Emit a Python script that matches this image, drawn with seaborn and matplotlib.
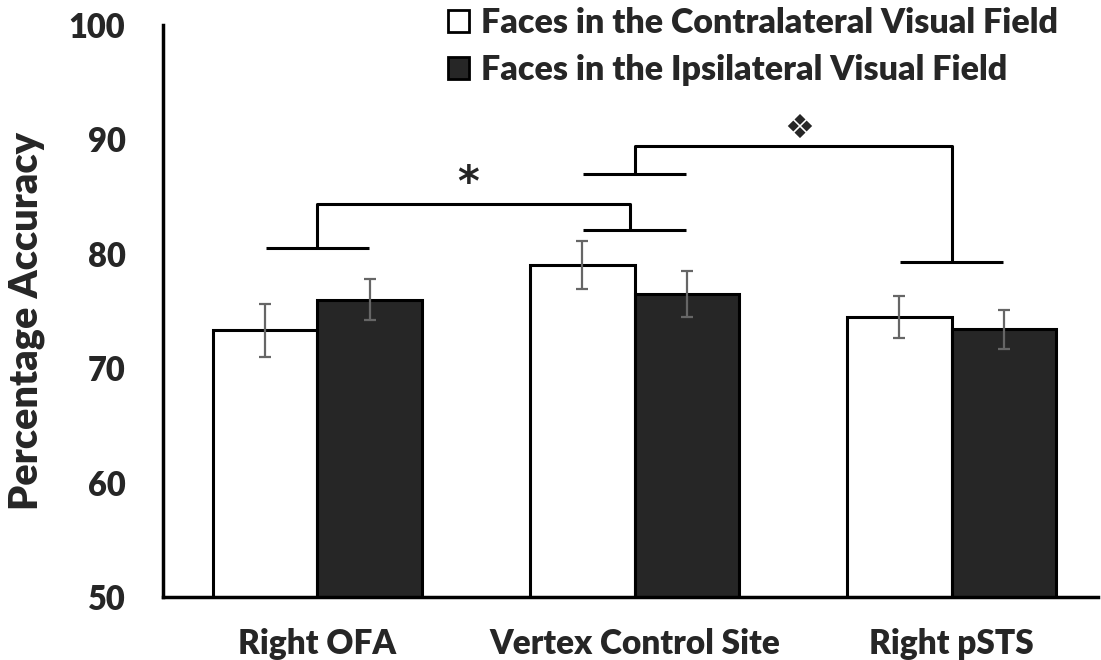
import matplotlib
matplotlib.use("Agg")
import matplotlib.pyplot as plt
import seaborn as sns
import pandas as pd
import numpy as np
from matplotlib.patches import Patch

# ---- data ----
regions = ["Right OFA", "Vertex Control Site", "Right pSTS"]
conditions = ["Faces in the Contralateral Visual Field",
              "Faces in the Ipsilateral Visual Field"]
contra_acc = [73.3, 79.0, 74.5]
ipsi_acc = [76.0, 76.5, 73.4]
contra_err = [2.3, 2.1, 1.85]
ipsi_err = [1.8, 2.0, 1.7]
colors = ["#ffffff", "#262626"]
yticks = [50, 60, 70, 80, 90, 100]

# significance brackets
sig_low_left = [80.5, 82.1]
sig_top_left = 84.4
sig_low_right = [87.0, 79.3]
sig_top_right = 89.4
sig_star = "*"
sig_diamond = "\u2756"

df = pd.DataFrame({
    "Region": regions * 2,
    "Condition": [conditions[0]] * 3 + [conditions[1]] * 3,
    "Accuracy": contra_acc + ipsi_acc,
})

sns.set_theme(style="white")
plt.rcParams["font.family"] = ["Lato", "DejaVu Sans"]
W = "heavy"
plt.rcParams["font.weight"] = W

fig = plt.figure(figsize=(11.01, 6.6), dpi=100)
ax = fig.add_axes([0.148, 0.0955, 0.849, 0.8665])

sns.barplot(data=df, x="Region", y="Accuracy", hue="Condition",
            palette=colors, edgecolor="black", linewidth=2.2,
            width=0.66, errorbar=None, ax=ax, legend=False, saturation=1)

# error bars
for cont, errs in zip(ax.containers, [contra_err, ipsi_err]):
    xs = [p.get_x() + p.get_width() / 2 for p in cont.patches]
    ys = [p.get_height() for p in cont.patches]
    ax.errorbar(xs, ys, yerr=errs, fmt="none", ecolor="#666666",
                elinewidth=1.6, capsize=4.5, capthick=1.6, zorder=5)

ax.set_ylim(50, 100)
ax.set_xlim(-0.487, 2.46)
ax.set_yticks(yticks)
ax.set_yticklabels([str(v) for v in yticks], fontsize=23.5, fontweight=W)
ax.set_xticks(range(len(regions)))
ax.set_xticklabels(regions, fontsize=24, fontweight=W)
ax.tick_params(axis="y", length=0, pad=27)
ax.tick_params(axis="x", length=0, pad=22)
ax.set_xlabel("")
ax.set_ylabel("Percentage Accuracy", fontsize=28.5, fontweight=W)
ax.yaxis.set_label_coords(-0.1265, 0.4825)

for s in ["top", "right"]:
    ax.spines[s].set_visible(False)
for s in ["left", "bottom"]:
    ax.spines[s].set_color("black")
    ax.spines[s].set_linewidth(2.5)

# brackets
hw = 0.163
lw = 2.2
def hline(xc, y):
    ax.plot([xc - hw, xc + hw], [y, y], color="black", lw=lw, solid_capstyle="butt")

hline(0, sig_low_left[0])
hline(1, sig_low_left[1])
ax.plot([0, 0, 1 - 0.015, 1 - 0.015], [sig_low_left[0], sig_top_left, sig_top_left, sig_low_left[1]],
        color="black", lw=lw)
ax.text(0.475, sig_top_left - 0.1, sig_star, ha="center", va="bottom",
        fontsize=30, fontweight="bold", family=["DejaVu Sans"])

hline(1, sig_low_right[0])
hline(2, sig_low_right[1])
ax.plot([1, 1, 2, 2], [sig_low_right[0], sig_top_right, sig_top_right, sig_low_right[1]],
        color="black", lw=lw)
ax.text(1.52, sig_top_right + 1.6, sig_diamond, ha="center", va="center",
        fontsize=24, family=["DejaVu Sans"])

# legend
handles = [Patch(facecolor=c, edgecolor="black", linewidth=2) for c in colors]
leg = ax.legend(handles, conditions, loc="upper left", bbox_to_anchor=(0.29, 1.055),
                frameon=False, handlelength=0.62, handleheight=0.62,
                handletextpad=0.35, labelspacing=0.42, borderaxespad=0,
                prop={"size": 24.5, "weight": W, "family": ["Lato", "DejaVu Sans"]})

fig.savefig("out.png", dpi=100, facecolor="white")
